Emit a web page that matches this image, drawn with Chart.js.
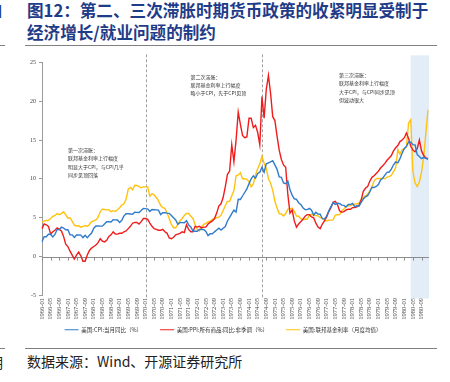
<!DOCTYPE html>
<html><head><meta charset="utf-8">
<script src="https://cdn.jsdelivr.net/npm/chart.js@4.4.0/dist/chart.umd.min.js"></script>
<style>
html,body{margin:0;padding:0;background:#fff;width:450px;height:382px;overflow:hidden;position:relative;}
.title{position:absolute;left:27px;top:-1px;font-family:"Noto Sans CJK SC";font-weight:700;font-size:16.6px;line-height:22px;color:#1f3c88;white-space:nowrap;}
.cut{position:absolute;font-family:"Noto Sans CJK SC";font-size:14px;white-space:nowrap;}
.rule{position:absolute;height:1.5px;background:#808080;}
.src{position:absolute;left:27px;top:351px;font-family:"Noto Sans CJK SC";font-size:14px;line-height:20px;color:#222;white-space:nowrap;}
#wrap{position:absolute;left:0;top:50px;width:450px;height:303px;}
</style></head><body>
<div class="cut" style="left:-11px;top:0px;color:#1f3c88;font-weight:700;">目</div>
<div class="title">图12：第二、三次滞胀时期货币政策的收紧明显受制于<br>经济增长/就业问题的制约</div>
<div class="rule" style="left:0;top:44.5px;width:5px;"></div>
<div class="rule" style="left:25px;top:44.5px;width:412px;"></div>
<div class="rule" style="left:0;top:347.5px;width:5px;"></div>
<div class="rule" style="left:25px;top:347.5px;width:412px;"></div>
<div class="cut" style="left:-11px;top:352px;color:#222;">明</div>
<div class="src">数据来源：Wind、开源证券研究所</div>
<div id="wrap"><canvas id="c"></canvas></div>
<script>
// ---- categories (monthly, 1966-01 .. 1980-12) ----
const years = [1966,1967,1968,1969,1970,1971,1972,1973,1974,1975,1976,1977,1978,1979,1980];
const months = ['01','02','03','04','05','06','07','08','09','10','11','12'];
const categories = [];
years.forEach(y => months.forEach(m => categories.push(y + '-' + m)));

// ---- series: US CPI YoY (%) ----
const cpiYoY = [
1.92,2.56,2.56,2.87,2.87,2.53,2.85,3.48,3.48,3.79,3.68,3.46,
3.46,2.81,2.80,2.48,2.79,2.78,2.77,2.45,2.75,2.43,2.74,3.04,
3.65,3.95,3.94,3.93,3.92,4.20,4.49,4.48,4.46,4.75,4.73,4.72,
4.40,4.68,5.25,5.52,5.51,5.48,5.44,5.71,5.70,5.68,5.93,6.20,
6.17,6.15,5.82,6.06,6.04,6.01,5.98,5.41,5.66,5.64,5.60,5.57,
5.29,5.00,4.71,4.16,4.40,4.38,4.35,4.62,4.08,3.81,3.28,3.27,
3.27,3.51,3.50,3.49,3.23,2.71,2.95,2.94,3.19,3.42,3.67,3.41,
3.65,3.88,4.59,5.06,5.52,5.98,5.73,7.38,7.36,7.80,8.25,8.71,
9.39,10.02,10.39,10.09,10.71,10.86,11.51,10.86,11.95,12.06,12.20,12.34,
11.80,11.23,10.25,10.21,9.47,9.39,9.72,8.60,7.91,7.44,7.38,6.94,
6.72,6.29,6.07,6.05,6.20,5.97,5.35,5.71,5.49,5.46,4.88,4.86,
5.22,5.91,6.44,6.95,6.73,6.87,6.83,6.62,6.60,6.39,6.72,6.70,
6.84,6.43,6.55,6.50,6.97,7.41,7.70,7.84,8.31,8.93,8.89,9.03,
9.28,9.86,10.09,10.49,10.85,10.89,11.26,11.82,12.18,12.07,12.61,13.29,
13.91,14.18,14.76,14.73,14.41,14.38,13.13,12.87,12.60,12.77,12.65,12.52
];
// ---- series: US PPI all commodities YoY, NSA (%) ----
const ppiYoY = [
3.6,4.2,4.1,3.9,2.9,3.2,3.4,3.7,3.5,3.3,2.6,1.6,
1.3,0.7,0.2,-0.3,0.2,0.6,0.1,-0.6,-0.6,0.2,0.8,1.1,
1.3,1.5,1.8,2.3,2.0,1.9,2.1,2.6,2.8,3.2,2.9,2.9,
3.0,3.0,3.2,3.3,3.6,3.9,4.3,4.4,4.4,4.2,4.5,4.9,
4.9,4.8,4.3,3.9,3.6,3.5,3.4,3.4,3.5,3.2,3.0,2.4,
2.3,2.5,2.8,2.9,3.0,3.2,3.1,4.1,3.5,3.2,3.2,3.9,
3.8,3.9,3.7,3.8,3.8,4.2,4.4,4.6,4.9,5.6,6.5,6.8,
7.6,9.0,10.6,11.0,14.4,12.2,15.0,18.6,17.0,15.6,15.3,15.4,
17.8,17.8,16.6,16.9,16.0,14.4,20.6,17.8,21.5,23.3,21.0,18.0,
17.5,15.5,13.7,12.5,11.8,11.5,8.0,5.6,6.0,4.6,3.8,4.2,
4.5,4.8,5.2,5.4,5.4,5.1,5.0,4.3,3.8,3.6,4.2,4.6,
5.1,5.8,6.3,7.0,7.1,6.7,5.9,5.7,5.8,6.0,6.1,6.1,
6.3,6.3,6.4,6.6,7.3,8.4,8.8,9.0,9.7,10.2,10.4,10.7,
11.0,11.4,11.7,12.0,12.4,12.7,13.0,13.6,14.0,14.3,14.8,15.0,
15.3,15.9,15.2,14.2,13.7,13.5,13.9,15.0,13.6,13.0,12.7,12.6
];
// ---- series: effective federal funds rate, monthly avg (%) ----
const fedFunds = [
4.42,4.60,4.65,4.67,4.90,5.17,5.30,5.53,5.40,5.53,5.76,5.40,
4.94,5.00,4.53,4.05,3.94,3.98,3.79,3.90,3.99,3.88,4.13,4.51,
4.61,4.71,5.05,5.76,6.11,6.07,6.02,6.03,5.78,5.91,5.82,6.02,
6.30,6.64,6.79,7.41,8.67,8.90,8.61,9.19,9.15,9.00,8.85,8.97,
8.98,8.98,7.76,8.10,7.95,7.61,7.21,6.61,6.29,6.20,5.60,4.90,
4.14,3.72,3.71,4.15,4.63,4.91,5.31,5.56,5.55,5.20,4.91,4.14,
3.50,3.29,3.83,4.17,4.27,4.46,4.55,4.80,4.87,5.04,5.06,5.33,
5.94,6.58,7.09,7.12,7.84,8.49,10.40,10.50,10.78,10.01,10.03,9.95,
9.65,8.97,9.35,10.51,11.31,11.93,12.92,12.01,11.34,10.06,9.45,8.53,
7.13,6.24,5.54,5.49,5.22,5.55,6.10,6.14,6.24,5.82,5.22,5.20,
4.87,4.77,4.84,4.82,5.29,5.48,5.31,5.29,5.25,5.02,4.95,4.65,
4.61,4.68,4.69,4.73,5.35,5.39,5.42,5.90,6.14,6.47,6.51,6.56,
6.70,6.78,6.79,6.89,7.36,7.60,7.81,8.04,8.45,8.96,9.76,10.03,
10.07,10.06,10.09,10.01,10.24,10.29,10.47,10.94,11.43,13.77,13.18,13.78,
13.82,14.13,17.19,17.61,10.98,9.47,9.03,9.61,10.87,12.81,15.85,18.90
];
const seriesNames = ['美国:CPI:当月同比（%）','美国:PPI:所有商品:同比:非季调（%）','美国:联邦基金利率（月度均值）'];
const yTicks = [-5,0,5,10,15,20,25];
const tickEvery = 4;
const dividers = ['1970-01','1974-07'];
const shadeFrom = '1980-04';
const notes = [
  {lines:['第一次滞胀：','联邦基金利率上行幅度','明显大于CPI，与CPI几乎','同步见顶回落'], x:68, y:100},
  {lines:['第二次滞胀：','联邦基金利率上行幅度','略小于CPI，先于CPI见顶'], x:190.5, y:26.7},
  {lines:['第三次滞胀：','联邦基金利率上行幅度','大于CPI，与CPI同步见顶','但波动很大'], x:339, y:25}
];

const decor = {
  id:'decor',
  afterLayout(chart){
    const lg = chart.legend;
    if(lg){ lg.top -= 10.5; lg.bottom -= 10.5; lg.left += 9; lg.right += 9; }
  },
  beforeDatasetsDraw(chart){
    const {ctx, chartArea:a, scales:{x,y}} = chart;
    ctx.save();
    const sx = x.getPixelForValue(categories.indexOf(shadeFrom));
    ctx.fillStyle = '#e3edf8';
    ctx.fillRect(sx, a.top-7, a.right+1-sx, a.bottom-a.top+10);
    ctx.strokeStyle = '#8a8a8a'; ctx.lineWidth = 0.8; ctx.setLineDash([3,2]);
    dividers.forEach(d=>{
      const px = Math.round(x.getPixelForValue(categories.indexOf(d)))+0.5;
      ctx.beginPath(); ctx.moveTo(px, a.top-8); ctx.lineTo(px, a.bottom+4); ctx.stroke();
    });
    ctx.setLineDash([]);
    const zy = Math.round(y.getPixelForValue(0))+0.5;
    ctx.strokeStyle = '#8c8c8c'; ctx.lineWidth = 1;
    ctx.beginPath(); ctx.moveTo(a.left, zy); ctx.lineTo(a.right+1, zy); ctx.stroke();
    ctx.beginPath();
    for(let i=0;i<categories.length;i+=tickEvery){
      const px = Math.round(x.getPixelForValue(i))+0.5;
      ctx.moveTo(px, zy); ctx.lineTo(px, zy+3);
    }
    ctx.stroke();
    ctx.restore();
  },
  afterDraw(chart){
    const {ctx} = chart;
    ctx.save();
    ctx.fillStyle = '#333';
    ctx.font = '5px "Noto Sans CJK SC"';
    ctx.textBaseline = 'middle';
    notes.forEach(n=>{
      n.lines.forEach((t,i)=>ctx.fillText(t, n.x, n.y + i*8.4));
    });
    ctx.restore();
  }
};

new Chart(document.getElementById('c'), {
  type:'line',
  data:{
    labels: categories,
    datasets:[
      {label:seriesNames[0], data:cpiYoY, borderColor:'#2f7bcc', backgroundColor:'#2f7bcc'},
      {label:seriesNames[1], data:ppiYoY, borderColor:'#f01c1c', backgroundColor:'#f01c1c'},
      {label:seriesNames[2], data:fedFunds, borderColor:'#ffc20e', backgroundColor:'#ffc20e'}
    ]
  },
  options:{
    responsive:true, maintainAspectRatio:false, animation:false,
    layout:{padding:{top:12.3, right:22, left:0, bottom:0}},
    elements:{point:{radius:0}, line:{borderWidth:1.4, tension:0}},
    plugins:{
      tooltip:{enabled:false},
      legend:{position:'bottom', labels:{usePointStyle:true, pointStyle:'line', pointStyleWidth:14,
        font:{size:5.5, family:'"Noto Sans CJK SC"'}, color:'#333', padding:18}}
    },
    scales:{
      x:{
        grid:{display:false, drawTicks:false}, border:{display:false},
        ticks:{autoSkip:false, maxRotation:90, minRotation:90, padding:2.5,
          font:{size:6.5, family:'"Liberation Serif"'}, color:'#444',
          callback:(v,i)=> i%tickEvery===0 ? categories[i] : ''},
        afterFit(s){ s.height = 24; }
      },
      y:{
        min:-5, max:25,
        afterBuildTicks(s){ s.ticks = yTicks.map(v=>({value:v})); },
        grid:{drawOnChartArea:false, tickLength:3, color:'#9a9a9a'},
        border:{color:'#9a9a9a', width:1},
        ticks:{font:{size:6, family:'"Liberation Serif"'}, color:'#444', padding:3},
        afterFit(s){ s.width = 42; }
      }
    }
  },
  plugins:[decor]
});
</script>
</body></html>
